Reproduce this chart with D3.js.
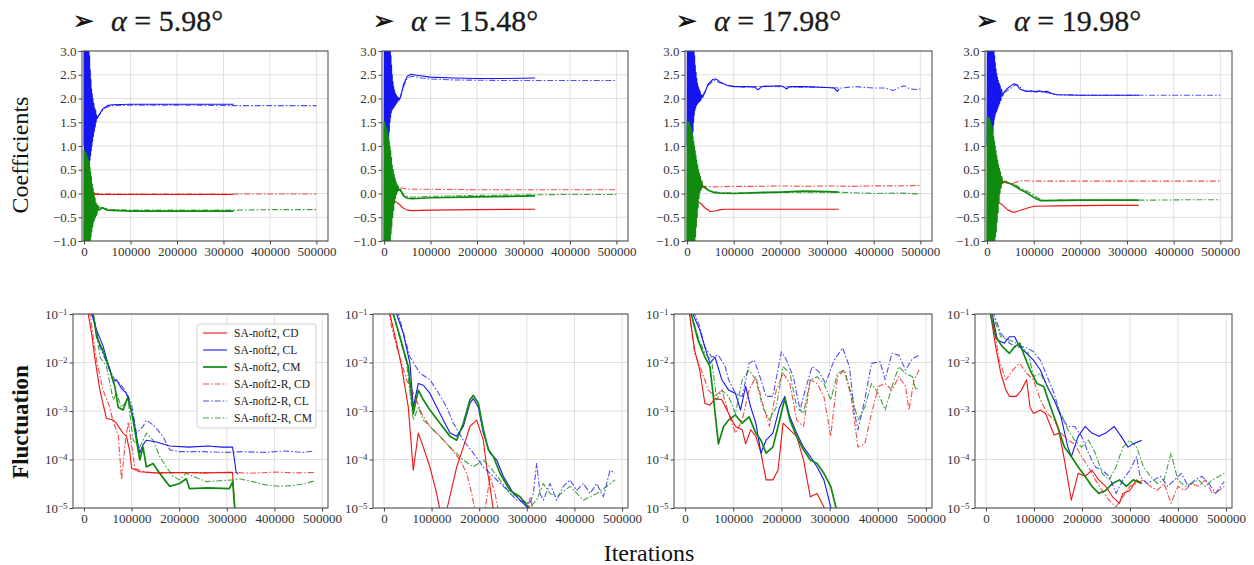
<!DOCTYPE html>
<html>
<head>
<meta charset="utf-8">
<script src="https://cdn.jsdelivr.net/npm/d3@7"></script>
<style>
  body { margin: 0; background: #fff; }
  text { font-family: "Liberation Serif", "Times New Roman", serif; }
</style>
</head>
<body>
<div id="chart"></div>
<script>
// ---------- data ----------
const angles = ["5.98", "15.48", "17.98", "19.98"];
const iterTicks = [0, 100000, 200000, 300000, 400000, 500000];
const coefTicks = [-1, -0.5, 0, 0.5, 1, 1.5, 2, 2.5, 3];
const flucTicks = [1e-5, 1e-4, 1e-3, 1e-2, 1e-1];
const seriesNames = ["SA-noft2, CD", "SA-noft2, CL", "SA-noft2, CM",
                     "SA-noft2-R, CD", "SA-noft2-R, CL", "SA-noft2-R, CM"];

// coefficients, alpha = 5.98
const coefCD_598 = [[0,3.6],[600,-1.5],[1200,3.6],[1800,-1.5],[2400,2.5],[3000,-1.2],[4000,1.2],[5000,-0.8],[6500,0.6],[8000,-0.5],[10000,0.3],[12000,-0.3],[14000,0.15],[17000,-0.1],[20000,0.02],[25000,-0.02],[40000,-0.02],[100000,-0.02],[200000,-0.02],[322000,-0.02]];
const coefCL_598 = [[0,1.0],[700,3.6],[1400,-1.5],[2100,3.6],[2800,-1.5],[3500,3.6],[4200,-1.3],[4900,3.6],[5600,-1.0],[6300,3.6],[7000,-0.5],[7700,3.5],[8400,0.0],[9100,3.3],[9800,0.3],[10500,3.1],[11200,0.5],[11900,2.9],[12600,0.7],[13300,2.6],[14000,0.8],[14700,2.4],[15400,0.9],[16100,2.2],[16800,1.0],[17500,2.1],[18200,1.1],[19000,2.0],[20000,1.2],[21000,1.9],[22000,1.3],[23000,1.8],[24000,1.4],[25000,1.75],[26000,1.5],[27000,1.65],[28500,1.58],[32000,1.65],[40000,1.78],[50000,1.85],[60000,1.87],[100000,1.88],[200000,1.88],[322000,1.88]];
const coefCM_598 = [[0,-1.5],[800,0.9],[1600,-1.5],[2400,0.8],[3200,-1.5],[4000,0.85],[4800,-1.4],[5600,0.8],[6400,-1.3],[7200,0.75],[8000,-1.2],[8800,0.7],[9600,-1.2],[10400,0.65],[11200,-1.1],[12000,0.55],[12800,-1.0],[13600,0.45],[14400,-0.9],[15200,0.35],[16000,-0.8],[17000,0.2],[18000,-0.7],[19000,0.1],[20000,-0.6],[21000,0.0],[22000,-0.55],[23000,-0.1],[24000,-0.5],[25500,-0.2],[27000,-0.45],[29000,-0.25],[32000,-0.35],[40000,-0.3],[50000,-0.35],[100000,-0.37],[200000,-0.37],[322000,-0.37]];
const coefCDR_598 = [[20000,0.0],[60000,-0.01],[200000,-0.01],[322000,-0.01],[400000,-0.01],[500000,-0.01]];
const coefCLR_598 = [[28000,1.6],[36000,1.7],[45000,1.8],[60000,1.85],[100000,1.86],[200000,1.86],[322000,1.85],[400000,1.85],[500000,1.85]];
const coefCMR_598 = [[30000,-0.28],[40000,-0.3],[55000,-0.33],[100000,-0.35],[200000,-0.35],[322000,-0.35],[400000,-0.34],[500000,-0.34]];

// coefficients, alpha = 15.48
const coefCD_1548 = [[18000,-0.15],[25000,-0.17],[32000,-0.22],[40000,-0.3],[50000,-0.35],[60000,-0.36],[100000,-0.35],[200000,-0.34],[325000,-0.33]];
const coefCL_1548 = [[0,1.0],[700,3.6],[1400,-1.5],[2100,3.6],[2800,-1.2],[3500,3.6],[4200,-0.8],[4900,3.6],[5600,-0.3],[6300,3.6],[7000,0.2],[7700,3.6],[8400,0.6],[9100,3.6],[9800,1.0],[10500,3.5],[11200,1.3],[11900,3.3],[12600,1.5],[13300,3.1],[14000,1.6],[14700,2.9],[15400,1.7],[16100,2.7],[16800,1.75],[17500,2.5],[18300,1.78],[19100,2.35],[19900,1.8],[20700,2.25],[21500,1.82],[22300,2.18],[23100,1.85],[24000,2.12],[25000,1.87],[26000,2.08],[27000,1.9],[28000,2.05],[29500,1.93],[31000,2.02],[33000,1.97],[36000,2.05],[42000,2.3],[50000,2.47],[58000,2.51],[70000,2.49],[100000,2.45],[150000,2.43],[200000,2.42],[260000,2.42],[325000,2.43]];
const coefCM_1548 = [[0,-1.5],[800,1.5],[1600,-1.5],[2400,1.45],[3200,-1.5],[4000,1.4],[4800,-1.5],[5600,1.35],[6400,-1.4],[7200,1.3],[8000,-1.3],[8800,1.2],[9600,-1.2],[10400,1.1],[11200,-1.1],[12000,1.0],[12800,-1.0],[13600,0.9],[14400,-0.85],[15200,0.75],[16000,-0.7],[17000,0.6],[18000,-0.5],[19000,0.5],[20000,-0.35],[21000,0.4],[22000,-0.2],[23000,0.32],[24000,-0.1],[25000,0.25],[26000,-0.02],[27000,0.2],[28500,0.04],[30000,0.15],[32000,0.07],[35000,0.08],[42000,-0.05],[50000,-0.1],[60000,-0.11],[100000,-0.09],[200000,-0.07],[325000,-0.05]];
const coefCDR_1548 = [[35000,0.12],[45000,0.1],[60000,0.09],[100000,0.09],[200000,0.08],[300000,0.08],[400000,0.08],[500000,0.08]];
const coefCLR_1548 = [[34000,2.0],[42000,2.25],[50000,2.43],[60000,2.47],[80000,2.43],[100000,2.41],[150000,2.39],[250000,2.38],[350000,2.38],[450000,2.38],[500000,2.38]];
const coefCMR_1548 = [[35000,0.05],[45000,-0.05],[60000,-0.08],[100000,-0.06],[200000,-0.04],[300000,-0.03],[400000,-0.02],[500000,-0.02]];

// coefficients, alpha = 17.98
const coefCD_1798 = [[22000,-0.17],[28000,-0.2],[38000,-0.3],[50000,-0.38],[60000,-0.37],[72000,-0.34],[85000,-0.33],[150000,-0.33],[250000,-0.33],[325000,-0.33]];
const coefCL_1798 = [[0,1.0],[700,3.6],[1400,-1.5],[2100,3.6],[2800,-1.5],[3500,3.6],[4200,-1.2],[4900,3.6],[5600,-0.8],[6300,3.6],[7000,-0.3],[7700,3.6],[8400,0.2],[9100,3.6],[9800,0.6],[10500,3.6],[11200,1.0],[11900,3.5],[12600,1.3],[13300,3.3],[14000,1.5],[14700,3.1],[15400,1.65],[16100,2.9],[16800,1.75],[17500,2.7],[18300,1.8],[19100,2.55],[19900,1.85],[20700,2.42],[21500,1.88],[22300,2.32],[23100,1.9],[24000,2.25],[25000,1.92],[26000,2.2],[27000,1.94],[28000,2.15],[29500,1.96],[31000,2.08],[33000,2.02],[38000,2.12],[45000,2.3],[55000,2.4],[62000,2.41],[72000,2.34],[85000,2.28],[100000,2.25],[130000,2.25],[145000,2.24],[152000,2.18],[160000,2.25],[200000,2.27],[208000,2.24],[213000,2.2],[220000,2.25],[250000,2.25],[300000,2.23],[315000,2.22],[322000,2.15],[326000,2.2]];
const coefCM_1798 = [[0,-1.5],[800,1.5],[1600,-1.5],[2400,1.5],[3200,-1.5],[4000,1.5],[4800,-1.5],[5600,1.45],[6400,-1.5],[7200,1.4],[8000,-1.5],[8800,1.35],[9600,-1.4],[10400,1.3],[11200,-1.3],[12000,1.2],[12800,-1.2],[13600,1.1],[14400,-1.1],[15200,1.0],[16000,-1.0],[16800,0.9],[17600,-0.9],[18400,0.8],[19200,-0.7],[20000,0.7],[21000,-0.5],[22000,0.6],[23000,-0.3],[24000,0.5],[25000,-0.1],[26000,0.42],[27000,0.02],[28000,0.35],[29500,0.08],[31000,0.26],[33000,0.13],[36000,0.15],[45000,0.07],[55000,0.03],[64000,0.01],[100000,0.0],[150000,0.02],[200000,0.03],[250000,0.05],[300000,0.04],[325000,0.03]];
const coefCDR_1798 = [[30000,0.15],[60000,0.14],[100000,0.15],[150000,0.15],[200000,0.16],[250000,0.15],[300000,0.16],[350000,0.15],[400000,0.16],[450000,0.16],[500000,0.17]];
const coefCLR_1798 = [[33000,2.05],[45000,2.28],[58000,2.38],[70000,2.33],[90000,2.27],[120000,2.24],[170000,2.26],[230000,2.24],[280000,2.24],[330000,2.22],[360000,2.25],[400000,2.22],[425000,2.22],[441000,2.17],[452000,2.22],[465000,2.27],[478000,2.2],[490000,2.19],[500000,2.2]];
const coefCMR_1798 = [[36000,0.12],[50000,0.05],[70000,0.02],[100000,0.01],[150000,0.01],[200000,0.02],[250000,0.03],[300000,0.03],[350000,0.02],[400000,0.0],[450000,0.01],[500000,-0.01]];

// coefficients, alpha = 19.98
const coefCD_1998 = [[21000,-0.17],[30000,-0.22],[45000,-0.35],[57000,-0.4],[70000,-0.36],[85000,-0.31],[100000,-0.27],[150000,-0.26],[250000,-0.25],[325000,-0.25]];
const coefCL_1998 = [[0,1.0],[700,3.6],[1400,-1.5],[2100,3.6],[2800,-1.5],[3500,3.6],[4200,-1.2],[4900,3.6],[5600,-0.8],[6300,3.6],[7000,-0.3],[7700,3.6],[8400,0.2],[9100,3.6],[9800,0.6],[10500,3.6],[11200,1.0],[11900,3.5],[12600,1.3],[13300,3.3],[14000,1.45],[14700,3.1],[15400,1.55],[16100,2.9],[16800,1.62],[17500,2.75],[18300,1.68],[19100,2.62],[19900,1.72],[20700,2.52],[21500,1.76],[22300,2.44],[23100,1.8],[24000,2.38],[25000,1.85],[26000,2.32],[27000,1.9],[28000,2.27],[29500,1.96],[31000,2.2],[33000,2.05],[36000,2.13],[42000,2.2],[50000,2.26],[58000,2.31],[64000,2.28],[70000,2.2],[78000,2.17],[85000,2.15],[95000,2.16],[105000,2.14],[112000,2.16],[120000,2.14],[128000,2.15],[140000,2.1],[150000,2.08],[200000,2.07],[325000,2.07]];
const coefCM_1998 = [[0,-1.5],[800,1.6],[1600,-1.5],[2400,1.6],[3200,-1.5],[4000,1.6],[4800,-1.5],[5600,1.55],[6400,-1.5],[7200,1.5],[8000,-1.5],[8800,1.45],[9600,-1.4],[10400,1.4],[11200,-1.3],[12000,1.3],[12800,-1.2],[13600,1.2],[14400,-1.1],[15200,1.1],[16000,-1.0],[16800,1.0],[17600,-0.9],[18400,0.9],[19200,-0.8],[20000,0.8],[21000,-0.6],[22000,0.7],[23000,-0.4],[24000,0.6],[25000,-0.2],[26000,0.52],[27000,0.0],[28000,0.45],[29500,0.12],[31000,0.35],[33000,0.22],[37000,0.25],[45000,0.22],[52000,0.2],[62000,0.14],[72000,0.08],[82000,0.03],[95000,-0.05],[105000,-0.11],[115000,-0.15],[130000,-0.15],[200000,-0.14],[325000,-0.14]];
const coefCDR_1998 = [[32000,0.26],[42000,0.22],[53000,0.2],[62000,0.24],[72000,0.27],[100000,0.26],[200000,0.26],[300000,0.26],[400000,0.26],[500000,0.26]];
const coefCLR_1998 = [[36000,2.12],[45000,2.18],[55000,2.24],[62000,2.3],[68000,2.27],[76000,2.18],[90000,2.14],[110000,2.15],[130000,2.12],[150000,2.08],[200000,2.07],[300000,2.07],[400000,2.07],[500000,2.07]];
const coefCMR_1998 = [[37000,0.27],[48000,0.22],[58000,0.2],[70000,0.12],[82000,0.07],[95000,0.0],[108000,-0.09],[122000,-0.15],[150000,-0.14],[250000,-0.14],[350000,-0.14],[450000,-0.13],[500000,-0.13]];

// fluctuation, alpha = 5.98
const flucCD_598 = [[5000,0.2],[9000,1e-1],[16000,4e-2],[23000,1.2e-2],[33500,2.7e-3],[40000,1.4e-3],[47400,7e-4],[61400,6.5e-4],[68000,5.6e-4],[82000,3.5e-4],[89300,3e-4],[96000,1.5e-4],[100000,6.6e-5],[117000,5.6e-5],[150000,5.3e-5],[200000,5.4e-5],[250000,5.3e-5],[312000,5.4e-5],[316000,1.2e-5],[319000,5e-6]];
const flucCL_598 = [[8000,0.2],[16000,1e-1],[26500,4.7e-2],[40000,2.2e-2],[47400,1.2e-2],[61400,4e-3],[68300,4.4e-3],[78800,2.9e-3],[89300,2.3e-3],[103000,7.6e-4],[117000,1.35e-4],[124000,2.0e-4],[131000,2.5e-4],[152000,2.3e-4],[180000,1.9e-4],[220000,1.8e-4],[260000,1.9e-4],[290000,1.8e-4],[312000,1.8e-4],[316000,1e-4],[319400,5.6e-5],[323000,5e-5]];
const flucCM_598 = [[8000,0.2],[19500,1e-1],[26500,3.4e-2],[40400,1.7e-2],[54400,7e-3],[64900,3.2e-3],[71800,1.2e-3],[82300,1.05e-3],[92700,2e-3],[103200,6.5e-4],[117200,9.8e-5],[124100,1.8e-4],[131100,7e-5],[145000,8.3e-5],[159000,5.2e-5],[169500,3.8e-5],[180000,2.8e-5],[201000,3.2e-5],[214800,4e-5],[221800,2.5e-5],[260000,2.6e-5],[305400,2.5e-5],[312400,3.5e-5],[316000,1.2e-5],[319000,5e-6]];
const flucCDR_598 = [[8000,0.2],[16000,6e-2],[26500,1.1e-2],[40000,2.7e-3],[54000,1.2e-3],[61400,6e-4],[72000,3.2e-4],[79000,3.8e-5],[86000,2e-4],[93000,6e-4],[100000,2e-4],[107000,6.5e-5],[130000,5.5e-5],[160000,5.2e-5],[200000,5.4e-5],[250000,5.3e-5],[300000,5.5e-5],[350000,5.2e-5],[400000,5.5e-5],[450000,5.3e-5],[483000,5.4e-5]];
const flucCLR_598 = [[10000,0.2],[19500,9e-2],[33500,2.1e-2],[54400,7e-3],[64900,4.4e-3],[75300,3.7e-3],[85800,2.7e-3],[99700,1.45e-3],[110200,3.5e-4],[124100,4.8e-4],[131100,6.5e-4],[145000,5.2e-4],[166000,3.0e-4],[180000,1.58e-4],[200000,1.45e-4],[250000,1.45e-4],[300000,1.4e-4],[330000,1.45e-4],[380000,1.4e-4],[420000,1.5e-4],[460000,1.4e-4],[483000,1.5e-4]];
const flucCMR_598 = [[10000,0.2],[23000,7e-2],[33500,1.3e-2],[47400,8.2e-3],[61400,1.7e-3],[68300,2.3e-3],[78800,1.2e-3],[92700,1.7e-3],[103200,2.5e-4],[117200,1.8e-4],[131100,3.5e-4],[145000,2.5e-4],[159000,1.15e-4],[173000,7e-5],[187000,4.5e-5],[201000,3.8e-5],[214800,5.2e-5],[228700,4.5e-5],[256600,3.5e-5],[312400,3.8e-5],[326400,4.0e-5],[354000,3.5e-5],[382000,3e-5],[410000,2.8e-5],[438000,2.9e-5],[466000,3.2e-5],[483000,3.6e-5]];

// fluctuation, alpha = 15.48
const flucCD_1548 = [[5000,0.2],[12600,1e-1],[26600,2.5e-2],[37100,8.2e-3],[51100,1.2e-3],[61600,6e-5],[72100,3.5e-4],[82600,1.8e-4],[96600,7e-5],[110600,2e-5],[117600,9e-6],[124700,4e-6],[131700,9e-6],[152700,7e-5],[166700,1.8e-4],[180700,4.8e-4],[194700,6.5e-4],[208700,2.5e-4],[215700,7e-5],[222700,2.8e-5],[229700,9e-6],[236700,4e-6]];
const flucCL_1548 = [[15000,0.2],[26600,1e-1],[40600,4e-2],[54600,9.6e-3],[61600,1.2e-3],[72100,3.7e-3],[82600,3.4e-3],[96600,2.3e-3],[117600,8.9e-4],[138700,3.5e-4],[152700,3e-4],[166700,4.8e-4],[180700,1.45e-3],[187700,1.8e-3],[198200,1.2e-3],[208700,3.5e-4],[222700,1.35e-4],[236700,9.8e-5],[250700,4.5e-5],[271700,2e-5],[292700,1.25e-5],[306700,9e-6],[317000,5e-6]];
const flucCM_1548 = [[10000,0.2],[19600,1e-1],[33600,3.4e-2],[51100,8.2e-3],[61600,8.9e-4],[72100,2.7e-3],[82600,1.7e-3],[96600,1.05e-3],[117600,5.6e-4],[138700,3e-4],[152700,2.5e-4],[166700,5.6e-4],[180700,1.7e-3],[187700,2.1e-3],[198200,1.45e-3],[208700,4.1e-4],[219200,1.58e-4],[229700,1.15e-4],[243700,5.2e-5],[264700,2.3e-5],[285700,1.7e-5],[303200,1.05e-5],[313700,5e-6]];
const flucCDR_1548 = [[8000,0.2],[15000,6e-2],[26600,2.1e-2],[47600,4.4e-3],[65100,2.0e-3],[79100,8.9e-4],[96600,4.8e-4],[117600,3e-4],[138700,1.8e-4],[159700,9.8e-5],[173700,5.2e-5],[184200,2e-5],[191200,9e-6],[198000,4e-6],[208700,4e-6],[212200,9e-6],[222700,4.5e-5],[233200,2e-5],[240200,9e-6],[247000,4e-6],[296000,4e-6],[306700,1.7e-5],[313700,9e-6],[320700,4e-6],[490000,4e-6]];
const flucCLR_1548 = [[18000,0.2],[30100,1e-1],[54600,1.3e-2],[75600,6e-3],[96600,4.4e-3],[110600,2.7e-3],[131700,1.2e-3],[145700,5.6e-4],[166700,2.5e-4],[187700,1.35e-4],[208700,7e-5],[222700,5.2e-5],[250700,2.8e-5],[278700,1.45e-5],[306700,1.25e-5],[313700,2e-5],[320700,8.3e-5],[327700,2e-5],[334700,1.45e-5],[348700,3.2e-5],[362700,1.45e-5],[376800,2.8e-5],[390800,3.8e-5],[404800,2.3e-5],[418800,3.2e-5],[432800,2e-5],[446800,3.2e-5],[460800,1.7e-5],[474800,6e-5],[485300,5.2e-5]];
const flucCMR_1548 = [[10000,0.2],[19600,1e-1],[47600,9.6e-3],[61600,6.5e-4],[72100,1.2e-3],[82600,6.5e-4],[96600,4.8e-4],[117600,3e-4],[138700,1.8e-4],[166700,9.8e-5],[187700,7e-5],[208700,9.8e-5],[222700,7e-5],[243700,3.8e-5],[264700,2e-5],[285700,1.7e-5],[306700,1.05e-5],[320700,1.45e-5],[334700,3.2e-5],[348700,2e-5],[362700,1.7e-5],[390800,2.8e-5],[418800,1.45e-5],[446800,2e-5],[467800,2.8e-5],[485300,3.8e-5]];

// fluctuation, alpha = 17.98
const flucCD_1798 = [[4000,0.2],[9200,1e-1],[19800,1.8e-2],[30400,7e-3],[41000,1.45e-3],[51600,1.32e-3],[62100,1.8e-3],[76300,1.7e-3],[90400,8.9e-4],[104500,4.8e-4],[118600,4.1e-4],[125700,2.1e-4],[136300,4.1e-4],[146900,3e-4],[157500,1.35e-4],[168100,3.8e-5],[182200,3.8e-5],[192800,6e-5],[203400,5.6e-4],[217500,4.1e-4],[231600,3e-4],[245800,9.8e-5],[259900,1.7e-5],[274000,2e-5],[288100,1.05e-5],[298700,5e-6]];
const flucCL_1798 = [[10000,0.2],[16200,1e-1],[30400,4.7e-2],[41000,2.1e-2],[51600,9.6e-3],[62100,1.3e-2],[76300,4.4e-3],[90400,2.7e-3],[104500,2.3e-3],[115100,1.05e-3],[125700,3.2e-3],[136300,1.2e-3],[146900,5.6e-4],[157500,1.35e-4],[168100,2.5e-4],[182200,3.5e-4],[196300,1.2e-3],[206900,2e-3],[217500,7.6e-4],[231600,3.5e-4],[245800,1.8e-4],[259900,1.15e-4],[274000,7e-5],[288100,3.8e-5],[302300,1.05e-5],[309300,5e-6]];
const flucCM_1798 = [[6000,0.2],[12700,1e-1],[26800,2.9e-2],[41000,1.3e-2],[51600,8.2e-3],[58600,2e-3],[69200,2.1e-4],[79800,4.8e-4],[90400,6.5e-4],[104500,8.3e-4],[118600,5.6e-4],[132800,7.6e-4],[146900,3.5e-4],[157500,2.5e-4],[168100,1.35e-4],[182200,1.8e-4],[196300,6.5e-4],[206900,1.8e-3],[217500,6.5e-4],[231600,3e-4],[245800,1.58e-4],[259900,9.8e-5],[274000,8.3e-5],[288100,5.2e-5],[302300,2.8e-5],[312900,1.05e-5],[320000,5e-6]];
const flucCDR_1798 = [[4000,0.2],[9200,1e-1],[19800,1.55e-2],[33900,7e-3],[48000,2.7e-3],[62100,2e-3],[76300,2.7e-3],[90400,8.9e-4],[104500,3.5e-4],[118600,6.5e-4],[132800,2.7e-3],[146900,5.1e-3],[161000,1.45e-3],[175100,4.8e-4],[189300,2.7e-3],[203400,6e-3],[217500,3.7e-3],[231600,6.5e-4],[245800,4.8e-4],[259900,4.4e-3],[274000,3.7e-3],[288100,2e-3],[302300,3e-4],[316400,5.1e-3],[330500,7e-3],[344600,2e-3],[358800,1.8e-4],[372900,2.1e-4],[387000,8.9e-4],[401100,3.2e-3],[415300,3.7e-3],[429400,2.7e-3],[443500,5.1e-3],[457600,3.2e-3],[464700,1.05e-3],[475300,4.4e-3],[485900,7e-3]];
const flucCLR_1798 = [[12000,0.2],[19800,1e-1],[30400,5.5e-2],[41000,2.1e-2],[55100,1.3e-2],[69200,1.42e-2],[83300,8.2e-3],[90400,4.4e-3],[104500,2.3e-3],[118600,2e-3],[132800,9.6e-3],[143400,1.12e-2],[157500,4.4e-3],[168100,2e-3],[182200,2e-3],[199900,1.67e-2],[210500,1.12e-2],[224600,5.1e-3],[238700,1.05e-3],[249300,2.7e-3],[263400,8.2e-3],[277500,6.5e-3],[291700,3.7e-3],[309300,1.12e-2],[327000,2e-2],[341100,8.2e-3],[351700,8.9e-4],[358800,4.1e-4],[372900,1.7e-3],[387000,9.6e-3],[404700,1.04e-2],[415300,4.4e-3],[429400,1.55e-2],[443500,1.42e-2],[457600,7e-3],[471800,1.2e-2],[485900,1.42e-2]];
const flucCMR_1798 = [[6000,0.2],[12700,1e-1],[26800,3.4e-2],[41000,1.55e-2],[55100,1.12e-2],[65700,1.7e-3],[76300,2.7e-3],[90400,2e-3],[104500,8.9e-4],[118600,4.4e-3],[132800,7e-3],[146900,4.4e-3],[161000,1.2e-3],[175100,6.5e-4],[189300,1.2e-3],[203400,8.2e-3],[217500,6e-3],[231600,1.2e-3],[245800,8.9e-4],[259900,4.4e-3],[274000,5.1e-3],[288100,3.7e-3],[302300,1.7e-3],[316400,6e-3],[330500,7e-3],[344600,2.3e-3],[358800,6.5e-4],[372900,1.2e-3],[387000,3.7e-3],[401100,2.3e-3],[415300,1.05e-3],[429400,3.2e-3],[443500,8.2e-3],[457600,6e-3],[471800,5.1e-3],[478800,2.7e-3],[485900,3.2e-3]];

// fluctuation, alpha = 19.98
const flucCD_1998 = [[4000,0.2],[9300,1e-1],[20100,2.1e-2],[30800,6e-3],[41500,2.7e-3],[48700,2e-3],[63000,2e-3],[73800,2.7e-3],[84500,4.4e-3],[91700,1.2e-3],[98900,8.9e-4],[113200,1.05e-3],[123900,8.9e-4],[134700,4.8e-4],[141800,3.2e-4],[152600,3.5e-4],[163300,9.8e-5],[177700,1.45e-5],[192000,5.2e-5],[206300,4.5e-5],[220600,6e-5],[235000,3.8e-5],[249300,2.8e-5],[263600,1.7e-5],[277900,1.25e-5],[285100,2e-5],[299400,2.3e-5],[313800,3.8e-5],[324500,3.2e-5]];
const flucCL_1998 = [[6000,0.2],[12900,1e-1],[23600,2.9e-2],[38000,2.5e-2],[48700,3.4e-2],[59500,3.4e-2],[70200,2.1e-2],[84500,1.55e-2],[98900,1.12e-2],[113200,7e-3],[127500,3.2e-3],[141800,1.7e-3],[156200,7.6e-4],[170500,1.8e-4],[177700,1.15e-4],[192000,3e-4],[206300,4.8e-4],[220600,3.5e-4],[235000,3e-4],[249300,3.5e-4],[267200,4.8e-4],[281500,3e-4],[295800,1.8e-4],[306600,2.1e-4],[324500,2.5e-4]];
const flucCM_1998 = [[4000,0.2],[9300,1e-1],[20100,3.4e-2],[34400,2.1e-2],[48700,1.55e-2],[59500,2.1e-2],[70200,2.5e-2],[80900,1.3e-2],[91700,7e-3],[106000,3.7e-3],[120300,3.2e-3],[134700,1.2e-3],[149000,4.8e-4],[163300,1.8e-4],[177700,1.15e-4],[192000,7e-5],[206300,4.5e-5],[220600,2.8e-5],[235000,2e-5],[249300,2.3e-5],[263600,3.2e-5],[277900,3.8e-5],[292300,2.8e-5],[306600,3.8e-5],[324500,3.2e-5]];
const flucCDR_1998 = [[6000,0.2],[12900,1e-1],[27200,1.12e-2],[41500,4.4e-3],[55900,7e-3],[70200,9.6e-3],[84500,6e-3],[98900,4.4e-3],[113200,1.7e-3],[127500,8.9e-4],[141800,6.5e-4],[156200,3.5e-4],[170500,2.5e-4],[184800,2.1e-4],[199100,1.15e-4],[213500,7e-5],[227800,3.8e-5],[242100,2.3e-5],[256400,1.45e-5],[270800,1.05e-5],[285100,1.7e-5],[299400,2.8e-5],[313800,3.2e-5],[328100,3.8e-5],[342400,2.8e-5],[356700,2.3e-5],[371100,3.2e-5],[385400,1.25e-5],[399700,2.8e-5],[414000,2.3e-5],[428400,3.2e-5],[442700,2.8e-5],[457000,3.8e-5],[471300,2e-5],[485700,2.3e-5],[496400,2.8e-5]];
const flucCLR_1998 = [[9000,0.2],[16500,1e-1],[30800,4e-2],[48700,2.5e-2],[63000,2.1e-2],[80900,2.1e-2],[98900,1.67e-2],[113200,1.12e-2],[127500,5.1e-3],[141800,2.3e-3],[156200,7.6e-4],[170500,4.8e-4],[184800,4.8e-4],[199100,3e-4],[213500,1.35e-4],[227800,7e-5],[242100,6e-5],[256400,4.5e-5],[270800,2e-5],[285100,3.8e-5],[299400,6e-5],[313800,1.15e-4],[320900,4.5e-5],[335200,3.2e-5],[349600,3.8e-5],[363900,4.5e-5],[378200,2.8e-5],[392600,3.8e-5],[406900,5.2e-5],[421200,2.8e-5],[435500,3.8e-5],[449900,4.5e-5],[464200,3.2e-5],[478500,2e-5],[489300,2.8e-5],[496400,3.5e-5]];
const flucCMR_1998 = [[6000,0.2],[12900,1e-1],[30800,3.4e-2],[48700,2.9e-2],[63000,2.5e-2],[73800,2.1e-2],[88100,1.55e-2],[98900,5.1e-3],[113200,6e-3],[127500,3.2e-3],[141800,1.7e-3],[156200,8.9e-4],[170500,4.1e-4],[184800,2.5e-4],[199100,1.8e-4],[213500,2.5e-4],[227800,1.35e-4],[242100,5.2e-5],[256400,3.8e-5],[270800,7e-5],[285100,1.8e-4],[299400,2.5e-4],[313800,1.8e-4],[328100,7e-5],[342400,4.5e-5],[356700,3.2e-5],[371100,3.8e-5],[385400,1.35e-4],[399700,3.8e-5],[414000,2.8e-5],[428400,3.2e-5],[442700,3.8e-5],[457000,2.8e-5],[471300,3.8e-5],[485700,4.5e-5],[496400,5.2e-5]];

const coefSeries = [
  [coefCD_598, coefCL_598, coefCM_598, coefCDR_598, coefCLR_598, coefCMR_598],
  [coefCD_1548, coefCL_1548, coefCM_1548, coefCDR_1548, coefCLR_1548, coefCMR_1548],
  [coefCD_1798, coefCL_1798, coefCM_1798, coefCDR_1798, coefCLR_1798, coefCMR_1798],
  [coefCD_1998, coefCL_1998, coefCM_1998, coefCDR_1998, coefCLR_1998, coefCMR_1998]
];
const flucSeries = [
  [flucCD_598, flucCL_598, flucCM_598, flucCDR_598, flucCLR_598, flucCMR_598],
  [flucCD_1548, flucCL_1548, flucCM_1548, flucCDR_1548, flucCLR_1548, flucCMR_1548],
  [flucCD_1798, flucCL_1798, flucCM_1798, flucCDR_1798, flucCLR_1798, flucCMR_1798],
  [flucCD_1998, flucCL_1998, flucCM_1998, flucCDR_1998, flucCLR_1998, flucCMR_1998]
];

// ---------- layout ----------
const width = 1254, height = 565;
const topLeft = [82, 382, 685, 985], topRight = [328, 628, 932, 1232];
const botLeft = [73, 373, 674, 975], botRight = [328, 628, 932, 1232];
const topY = [241, 51], botY = [508, 314];

const red = "#f01212", blue = "#1515f2", green = "#0f8a0f";
const styles = [
  {color: red,   dash: null, w: 1.1, op: 1},
  {color: blue,  dash: null, w: 1.1, op: 1},
  {color: green, dash: null, w: 1.7, op: 1},
  {color: red,   dash: "6,2,1.6,2", w: 1.1, op: 0.75},
  {color: blue,  dash: "6,2,1.6,2", w: 1.1, op: 0.75},
  {color: green, dash: "6,2,1.6,2", w: 1.1, op: 0.8}
];

const svg = d3.select("#chart").append("svg")
    .attr("width", width)
    .attr("height", height);

svg.append("rect").attr("width", width).attr("height", height).attr("fill", "#fff");

const supMinus = {"-1": "−1", "-2": "−2", "-3": "−3", "-4": "−4", "-5": "−5"};

function drawAxes(id, x, y, yTicks, isLog, series) {
    const [x0, x1] = x.range();
    const [y0, y1] = y.range();
    const g = svg.append("g");

    //grid
    g.append("g").selectAll("line").data(iterTicks).join("line")
        .attr("x1", d => x(d)).attr("x2", d => x(d))
        .attr("y1", y0).attr("y2", y1)
        .attr("stroke", "#d8d8d8").attr("stroke-width", 0.8);
    g.append("g").selectAll("line").data(yTicks).join("line")
        .attr("x1", x0).attr("x2", x1)
        .attr("y1", d => y(d)).attr("y2", d => y(d))
        .attr("stroke", "#d8d8d8").attr("stroke-width", 0.8);

    //clip
    svg.append("clipPath").attr("id", id)
        .append("rect")
        .attr("x", x0).attr("y", y1)
        .attr("width", x1 - x0).attr("height", y0 - y1);

    const line = d3.line().x(d => x(d[0])).y(d => y(d[1]));
    const lines = g.append("g").attr("clip-path", `url(#${id})`);
    series.forEach((s, i) => {
        const st = styles[i];
        lines.append("path")
            .datum(s)
            .attr("d", line)
            .attr("fill", "none")
            .attr("stroke", st.color)
            .attr("stroke-width", st.w)
            .attr("stroke-opacity", st.op)
            .attr("stroke-dasharray", st.dash)
            .attr("stroke-linejoin", "round");
    });

    //x axis
    const xa = g.append("g")
        .attr("transform", `translate(0,${y0})`)
        .call(d3.axisBottom(x).tickValues(iterTicks).tickFormat(d3.format("d"))
            .tickSize(3.5).tickPadding(2));
    //y axis
    const ya = g.append("g")
        .attr("transform", `translate(${x0},0)`)
        .call(d3.axisLeft(y).tickValues(yTicks)
            .tickFormat(isLog ? () => "" : d => (d < 0 ? "−" : "") + Math.abs(d).toFixed(1))
            .tickSize(3.5).tickPadding(2));

    [xa, ya].forEach(a => {
        a.select(".domain").remove();
        a.selectAll(".tick line").attr("stroke", "#444");
        a.selectAll("text")
            .attr("font-family", "Liberation Serif, serif")
            .attr("font-size", 13)
            .attr("fill", "#333");
    });

    if (isLog) {
        ya.selectAll(".tick text").each(function (d) {
            const t = d3.select(this);
            const k = Math.round(Math.log10(d));
            t.append("tspan").text("10");
            t.append("tspan").attr("dy", "-0.45em").attr("font-size", 9).text(supMinus[String(k)]);
        });
    }

    //spines
    g.append("rect")
        .attr("x", x0).attr("y", y1)
        .attr("width", x1 - x0).attr("height", y0 - y1)
        .attr("fill", "none").attr("stroke", "#444").attr("stroke-width", 1);
}

angles.forEach((a, i) => {
    const xTop = d3.scaleLinear().domain([-4500, 525000]).range([topLeft[i], topRight[i]]);
    const yTop = d3.scaleLinear().domain([-1, 3]).range(topY);
    drawAxes(`clip-top-${i}`, xTop, yTop, coefTicks, false, coefSeries[i]);

    const xBot = d3.scaleLinear().domain([-23000, 512500]).range([botLeft[i], botRight[i]]);
    const yBot = d3.scaleLog().domain([1e-5, 1e-1]).range(botY);
    drawAxes(`clip-bot-${i}`, xBot, yBot, flucTicks, true, flucSeries[i]);

    //titles
    svg.append("text")
        .attr("x", topLeft[i] - 9).attr("y", 29)
        .attr("font-family", "DejaVu Sans, sans-serif")
        .attr("font-size", 25)
        .attr("fill", "#111")
        .attr("stroke", "#111")
        .attr("stroke-width", 0.6)
        .text("➢");
    const t = svg.append("text")
        .attr("x", topLeft[i] + 29).attr("y", 31)
        .attr("font-size", 30)
        .attr("fill", "#1a1a1a")
        .attr("stroke", "#1a1a1a")
        .attr("stroke-width", 0.3);
    t.append("tspan").attr("font-style", "italic").text("α");
    t.append("tspan").text(` = ${a}°`);
});

//axis labels
svg.append("text")
    .attr("transform", "translate(28,155) rotate(-90)")
    .attr("text-anchor", "middle")
    .attr("font-size", 24)
    .attr("fill", "#111")
    .text("Coefficients");

svg.append("text")
    .attr("transform", "translate(28,422) rotate(-90)")
    .attr("text-anchor", "middle")
    .attr("font-size", 23)
    .attr("font-weight", "bold")
    .attr("fill", "#111")
    .text("Fluctuation");

svg.append("text")
    .attr("x", 649).attr("y", 561)
    .attr("text-anchor", "middle")
    .attr("font-size", 24)
    .attr("fill", "#111")
    .text("Iterations");

//legend in first fluctuation panel
const legend = svg.append("g");
legend.append("rect")
    .attr("x", 197).attr("y", 324)
    .attr("width", 119).attr("height", 104)
    .attr("rx", 3)
    .attr("fill", "#fff").attr("fill-opacity", 0.85)
    .attr("stroke", "#d0d0d0");

seriesNames.forEach((name, i) => {
    const yy = 333 + i * 17;
    const st = styles[i];
    legend.append("line")
        .attr("x1", 203).attr("x2", 227)
        .attr("y1", yy).attr("y2", yy)
        .attr("stroke", st.color)
        .attr("stroke-width", st.w)
        .attr("stroke-opacity", st.op)
        .attr("stroke-dasharray", st.dash);
    legend.append("text")
        .attr("x", 234).attr("y", yy + 4)
        .attr("font-size", 11.5)
        .attr("fill", "#222")
        .text(name);
});
</script>
</body>
</html>
